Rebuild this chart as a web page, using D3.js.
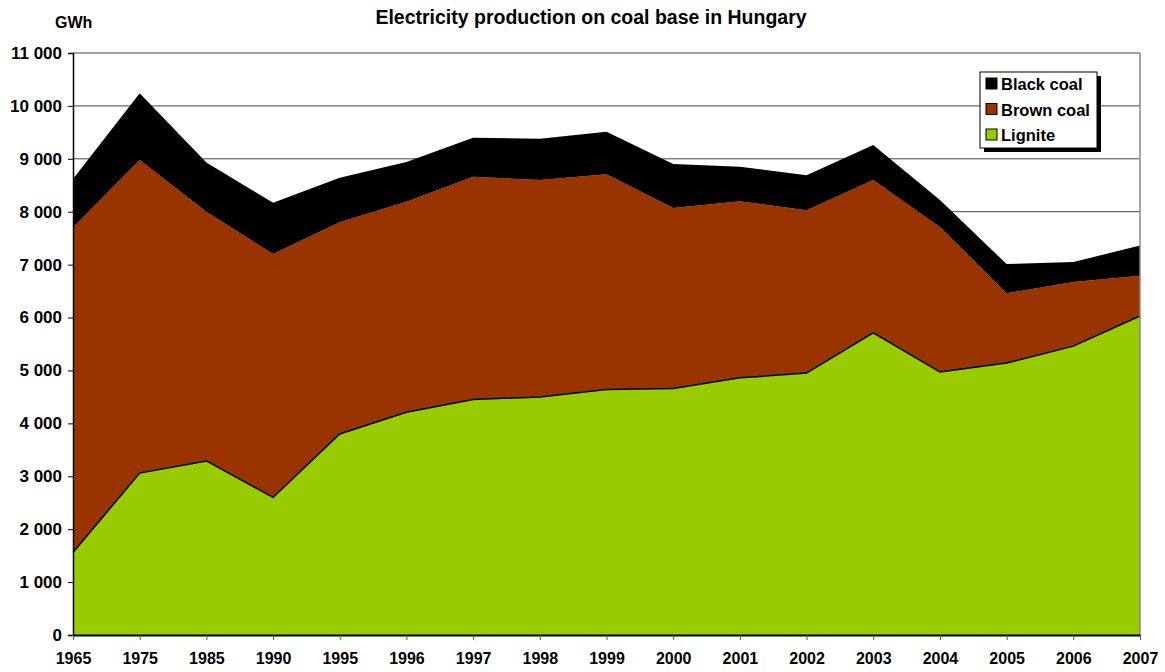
<!DOCTYPE html>
<html>
<head>
<meta charset="utf-8">
<script src="https://cdn.jsdelivr.net/npm/d3@7"></script>
<style>
  html, body { margin: 0; padding: 0; background: #fff; }
  svg text { font-family: "Liberation Sans", Arial, sans-serif; font-weight: bold; }
</style>
</head>
<body>
<svg id="chart" width="1165" height="672"></svg>
<script>
const years = ["1965","1975","1985","1990","1995","1996","1997","1998","1999","2000","2001","2002","2003","2004","2005","2006","2007"];
const lignite = [1560,3060,3290,2600,3800,4210,4450,4500,4640,4660,4860,4950,5710,4970,5140,5460,6030];
const brownCoal = [6140,5920,4710,4600,4000,3980,4210,4100,4070,3410,3340,3080,2890,2740,1320,1210,760];
const blackCoal = [920,1260,930,970,840,750,740,780,800,830,650,660,660,510,550,380,570];
const yTicks = [0,1000,2000,3000,4000,5000,6000,7000,8000,9000,10000,11000];
const seriesNames = ["Black coal","Brown coal","Lignite"];
const colors = {"Lignite":"#99CC00","Brown coal":"#993300","Black coal":"#000000"};

(function () {
const svg = d3.select("#chart");
const pLeft = 73, pRight = 1140, pTop = 53, pBottom = 635;

const x = d3.scalePoint().domain(years).range([pLeft, pRight]);
const y = d3.scaleLinear().domain([0, 11000]).range([pBottom, pTop]);

const rows = years.map((yr, i) => ({year: yr, "Lignite": lignite[i], "Brown coal": brownCoal[i], "Black coal": blackCoal[i]}));
const stacked = d3.stack().keys(["Lignite","Brown coal","Black coal"])(rows);

// gridlines
svg.append("g").selectAll("line").data(yTicks.filter(d => d > 0)).join("line")
  .attr("x1", pLeft).attr("x2", pRight)
  .attr("y1", d => y(d)).attr("y2", d => y(d))
  .attr("stroke", "#444").attr("stroke-width", 1);

// areas
const area = d3.area()
  .x(d => x(d.data.year))
  .y0(d => y(d[0]))
  .y1(d => y(d[1]));
svg.append("g").selectAll("path").data(stacked).join("path")
  .attr("d", area)
  .attr("fill", d => colors[d.key]);

// lignite outline
const line = d3.line().x(d => x(d.data.year)).y(d => y(d[1]));
svg.append("path").datum(stacked[0]).attr("d", line)
  .attr("fill", "none").attr("stroke", "#000").attr("stroke-width", 1.5);

// right border
svg.append("line").attr("x1", pRight).attr("x2", pRight).attr("y1", pTop).attr("y2", pBottom)
  .attr("stroke", "#888").attr("stroke-width", 1.5);

// y axis
const yAxis = d3.axisLeft(y).tickValues(yTicks).tickSize(5).tickPadding(6)
  .tickFormat(d => d3.format(",")(d).replace(/,/g, " "));
const gy = svg.append("g").attr("transform", `translate(${pLeft},0)`).call(yAxis);
gy.select(".domain").attr("stroke", "#000").attr("stroke-width", 1.5);
gy.selectAll(".tick line").attr("stroke", "#000");
gy.selectAll(".tick text").attr("font-size", 17).attr("fill", "#000")
  .attr("font-family", "'Liberation Sans', Arial, sans-serif").attr("font-weight", "bold");

// x axis
const xAxis = d3.axisBottom(x).tickSize(5).tickPadding(13).tickSizeOuter(0);
const gx = svg.append("g").attr("transform", `translate(0,${pBottom})`).call(xAxis);
gx.select(".domain").attr("stroke", "#000").attr("stroke-width", 2);
gx.selectAll(".tick line").attr("stroke", "#555");
gx.selectAll(".tick text").attr("font-size", 16).attr("fill", "#000")
  .attr("font-family", "'Liberation Sans', Arial, sans-serif").attr("font-weight", "bold");

// title
svg.append("text").attr("x", 591).attr("y", 24).attr("text-anchor", "middle")
  .attr("font-size", 19.5).text("Electricity production on coal base in Hungary");
svg.append("text").attr("x", 55).attr("y", 28).attr("font-size", 16).text("GWh");

// legend
const lg = svg.append("g");
const lx = 980, ly = 72, lw = 117, lh = 76;
lg.append("rect").attr("x", lx + 4).attr("y", ly + 4).attr("width", lw).attr("height", lh).attr("fill", "#000");
lg.append("rect").attr("x", lx).attr("y", ly).attr("width", lw).attr("height", lh)
  .attr("fill", "#fff").attr("stroke", "#000").attr("stroke-width", 1);
const items = lg.selectAll("g.item").data(seriesNames).join("g").attr("class", "item")
  .attr("transform", (d, i) => `translate(${lx + 6},${ly + 12 + i * 25.5})`);
items.append("rect").attr("x", 0).attr("y", -6).attr("width", 11).attr("height", 11)
  .attr("fill", d => colors[d]).attr("stroke", "#000").attr("stroke-width", 1);
items.append("text").attr("x", 15).attr("y", 6).attr("font-size", 16.5).text(d => d);
})();
</script>
</body>
</html>
